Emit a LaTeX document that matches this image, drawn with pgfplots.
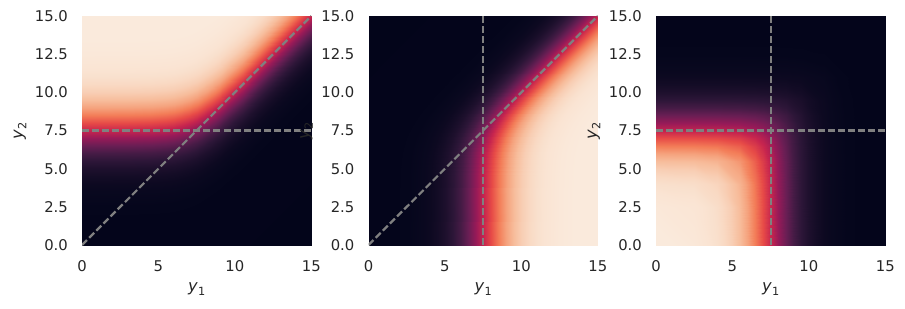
\documentclass[border=0pt]{standalone}
\usepackage{fontspec}
\setmainfont{DejaVu Sans}
\usepackage{pgfplots}
\pgfplotsset{compat=1.18}
\usetikzlibrary{calc}
\definecolor{tc}{RGB}{38,38,38}
\definecolor{dl}{RGB}{128,128,128}
\newcommand{\lab}[1]{\fontsize{16.2}{19}\selectfont\itshape y\kern0.02em\raisebox{-0.22em}{\fontsize{11.3}{13}\selectfont\upshape #1}}
\pgfplotsset{
 colormap={rocketL}{
  rgb255(0pt)=(3,5,26)
  rgb255(1000pt)=(4,5,27)
  rgb255(1100pt)=(5,6,28)
  rgb255(1200pt)=(9,8,31)
  rgb255(1250pt)=(13,9,33)
  rgb255(1300pt)=(20,12,38)
  rgb255(1350pt)=(30,16,45)
  rgb255(1400pt)=(45,22,56)
  rgb255(1450pt)=(69,27,69)
  rgb255(1500pt)=(105,30,84)
  rgb255(1550pt)=(151,26,88)
  rgb255(1600pt)=(199,37,78)
  rgb255(1650pt)=(231,75,71)
  rgb255(1700pt)=(243,125,88)
  rgb255(1750pt)=(245,163,126)
  rgb255(1800pt)=(247,189,156)
  rgb255(1850pt)=(248,206,180)
  rgb255(1900pt)=(249,217,195)
  rgb255(1950pt)=(249,224,205)
  rgb255(2000pt)=(250,228,211)
  rgb255(2100pt)=(250,232,217)
  rgb255(2200pt)=(250,234,220)
  rgb255(3200pt)=(250,235,221)
 },
 hm/.style={
  scale only axis, width=229.3pt, height=229pt,
  xmin=0,xmax=15,ymin=0,ymax=15,
  xtick={0,5,10,15}, ytick={0,2.5,5,7.5,10,12.5,15},
  yticklabel style={/pgf/number format/.cd, fixed, fixed zerofill, precision=1},
  /pgf/number format/assume math mode=true,
  axis line style={draw=none},
  major tick length=0pt,
  tick label style={font=\fontsize{14.8}{17}\selectfont, text=tc},
  xticklabel shift=11.8pt, yticklabel shift=10.6pt,
  every axis x label/.style={at={(axis description cs:0.5,0)}, anchor=base, yshift=-46.5pt, text=tc},
  every axis y label/.style={at={($(axis description cs:0,0.5)+(-59.3pt,0pt)$)}, rotate=90, anchor=base, text=tc},
  xlabel={\lab{1}},
  ylabel={\lab{2}},
  colormap name=rocketL, point meta min=-16, point meta max=16,
 },
 dsh/.style={dl, line width=2.2pt, dash pattern=on 7.06pt off 3.05pt},
}
\begin{document}
\begin{tikzpicture}
\useasboundingbox (0,0) rectangle (905pt,308pt);
% ---------- panel 1 ----------
\begin{axis}[hm, at={(82pt,63pt)}, anchor=south west]
\addplot[surf, shader=interp, mesh/rows=2, mesh/cols=15, point meta=\thisrow{L}] table {
x y L
0 0 -7.5006
3 0 -7.5110
4.5 0 -7.5486
5.5 0 -7.6269
6 0 -7.7014
6.5 0 -7.8133
7 0 -7.9741
7.5 0 -8.1931
8 0 -8.4741
8.5 0 -8.8133
9 0 -9.2014
9.5 0 -9.6269
10.5 0 -10.5486
12 0 -12.0110
15 0 -15.0006
0 15 7.4994
3 15 7.4890
4.5 15 7.4514
5.5 15 7.3731
6 15 7.2986
6.5 15 7.1867
7 15 7.0259
7.5 15 6.8069
8 15 6.5259
8.5 15 6.1867
9 15 5.7986
9.5 15 5.3731
10.5 15 4.4514
12 15 2.9890
15 15 -0.0006
};
\addplot[dsh] coordinates {(0,7.5) (15,7.5)};
\addplot[dsh] coordinates {(0,0) (15,15)};
\end{axis}
% ---------- panel 2 ----------
\begin{axis}[hm, at={(368.5pt,63pt)}, anchor=south west]
\addplot[surf, shader=interp, mesh/rows=15, mesh/cols=2, point meta=\thisrow{L}] table {
x y L
0 0 -7.5006
15 0 7.4994
0 3 -7.5110
15 3 7.4890
0 4.5 -7.5486
15 4.5 7.4514
0 5.5 -7.6269
15 5.5 7.3731
0 6 -7.7014
15 6 7.2986
0 6.5 -7.8133
15 6.5 7.1867
0 7 -7.9741
15 7 7.0259
0 7.5 -8.1931
15 7.5 6.8069
0 8 -8.4741
15 8 6.5259
0 8.5 -8.8133
15 8.5 6.1867
0 9 -9.2014
15 9 5.7986
0 9.5 -9.6269
15 9.5 5.3731
0 10.5 -10.5486
15 10.5 4.4514
0 12 -12.0110
15 12 2.9890
0 15 -15.0006
15 15 -0.0006
};
\addplot[dsh] coordinates {(7.5,0) (7.5,15)};
\addplot[dsh] coordinates {(0,0) (15,15)};
\end{axis}
% ---------- panel 3 ----------
\begin{axis}[hm, at={(656pt,63pt)}, anchor=south west]
\addplot[surf, shader=interp, mesh/rows=12, mesh/cols=12, point meta=\thisrow{L}] table {
x y L
0 0 6.8069
2.5 0 4.9211
4 0 3.4819
5.5 0 1.9959
6.5 0 0.9985
7 0 0.4991
7.5 0 -0.0006
8 0 -0.5003
8.5 0 -1.0002
9.5 0 -2.0001
11 0 -3.5000
15 0 -7.5000
0 2.5 4.9211
2.5 2.5 4.3069
4 2.5 3.2986
5.5 2.5 1.9514
6.5 2.5 0.9818
7 2.5 0.4890
7.5 2.5 -0.0067
8 2.5 -0.5041
8.5 2.5 -1.0025
9.5 2.5 -2.0009
11 2.5 -3.5002
15 2.5 -7.5000
0 4 3.4819
2.5 4 3.2986
4 4 2.8069
5.5 4 1.7986
6.5 4 0.9211
7 4 0.4514
7.5 4 -0.0298
8 4 -0.5182
8.5 4 -1.0110
9.5 4 -2.0041
11 4 -3.5009
15 4 -7.5000
0 5.5 1.9959
2.5 5.5 1.9514
4 5.5 1.7986
5.5 5.5 1.3069
6.5 5.5 0.6867
7 5.5 0.2986
7.5 5.5 -0.1269
8 5.5 -0.5789
8.5 5.5 -1.0486
9.5 5.5 -2.0182
11 5.5 -3.5041
15 5.5 -7.5001
0 6.5 0.9985
2.5 6.5 0.9818
4 6.5 0.9211
5.5 6.5 0.6867
6.5 6.5 0.3069
7 6.5 0.0259
7.5 6.5 -0.3133
8 6.5 -0.7014
8.5 6.5 -1.1269
9.5 6.5 -2.0486
11 6.5 -3.5110
15 6.5 -7.5002
0 7 0.4991
2.5 7 0.4890
4 7 0.4514
5.5 7 0.2986
6.5 7 0.0259
7 7 -0.1931
7.5 7 -0.4741
8 7 -0.8133
8.5 7 -1.2014
9.5 7 -2.0789
11 7 -3.5182
15 7 -7.5003
0 7.5 -0.0006
2.5 7.5 -0.0067
4 7.5 -0.0298
5.5 7.5 -0.1269
6.5 7.5 -0.3133
7 7.5 -0.4741
7.5 7.5 -0.6931
8 7.5 -0.9741
8.5 7.5 -1.3133
9.5 7.5 -2.1269
11 7.5 -3.5298
15 7.5 -7.5006
0 8 -0.5003
2.5 8 -0.5041
4 8 -0.5182
5.5 8 -0.5789
6.5 8 -0.7014
7 8 -0.8133
7.5 8 -0.9741
8 8 -1.1931
8.5 8 -1.4741
9.5 8 -2.2014
11 8 -3.5486
15 8 -7.5009
0 8.5 -1.0002
2.5 8.5 -1.0025
4 8.5 -1.0110
5.5 8.5 -1.0486
6.5 8.5 -1.1269
7 8.5 -1.2014
7.5 8.5 -1.3133
8 8.5 -1.4741
8.5 8.5 -1.6931
9.5 8.5 -2.3133
11 8.5 -3.5789
15 8.5 -7.5015
0 9.5 -2.0001
2.5 9.5 -2.0009
4 9.5 -2.0041
5.5 9.5 -2.0182
6.5 9.5 -2.0486
7 9.5 -2.0789
7.5 9.5 -2.1269
8 9.5 -2.2014
8.5 9.5 -2.3133
9.5 9.5 -2.6931
11 9.5 -3.7014
15 9.5 -7.5041
0 11 -3.5000
2.5 11 -3.5002
4 11 -3.5009
5.5 11 -3.5041
6.5 11 -3.5110
7 11 -3.5182
7.5 11 -3.5298
8 11 -3.5486
8.5 11 -3.5789
9.5 11 -3.7014
11 11 -4.1931
15 11 -7.5182
0 15 -7.5000
2.5 15 -7.5000
4 15 -7.5000
5.5 15 -7.5001
6.5 15 -7.5002
7 15 -7.5003
7.5 15 -7.5006
8 15 -7.5009
8.5 15 -7.5015
9.5 15 -7.5041
11 15 -7.5182
15 15 -8.1931
};
\addplot[dsh] coordinates {(0,7.5) (15,7.5)};
\addplot[dsh] coordinates {(7.5,0) (7.5,15)};
\end{axis}
\end{tikzpicture}
\end{document}
